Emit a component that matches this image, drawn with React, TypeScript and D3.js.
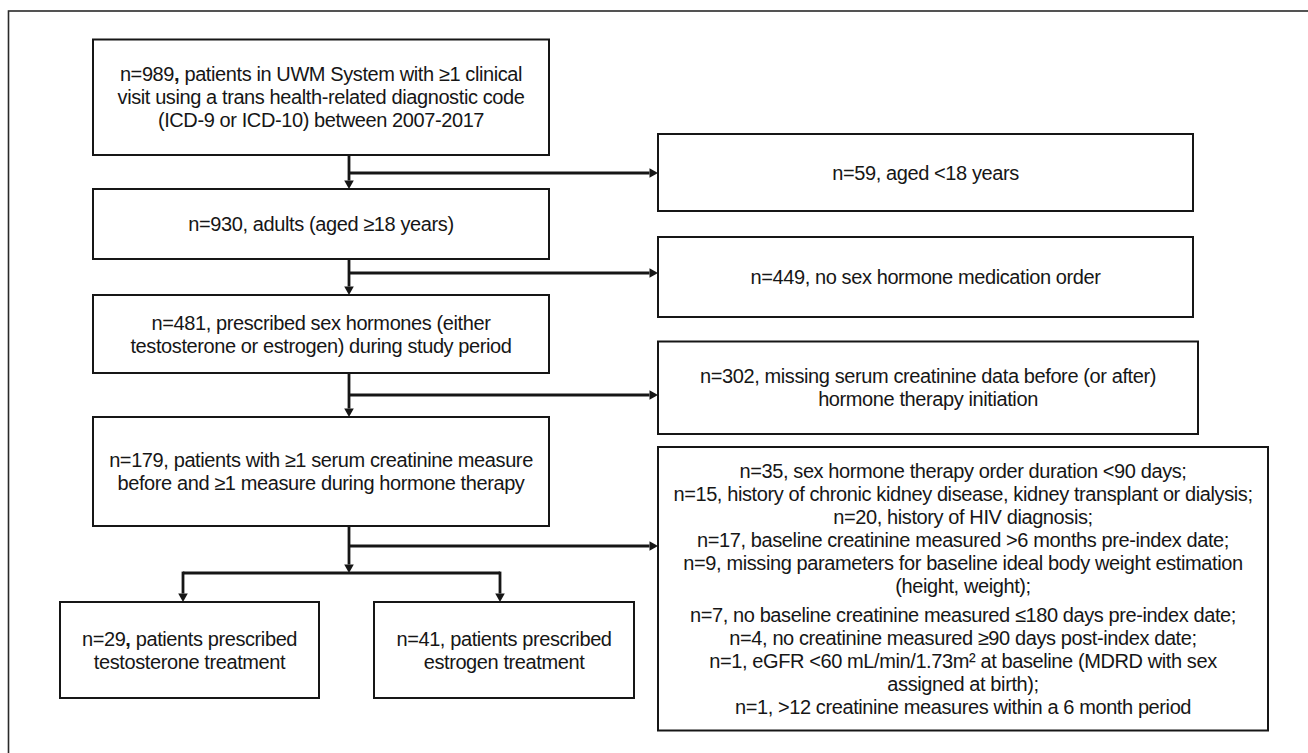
import React from 'react'
import * as d3 from 'd3'

// flow counts and labels
const mainCounts = [989, 930, 481, 179]
const mainLabels = [
  ['patients in UWM System with ≥1 clinical', 'visit using a trans health-related diagnostic code', '(ICD-9 or ICD-10) between 2007-2017'],
  ['adults (aged ≥18 years)'],
  ['prescribed sex hormones (either', 'testosterone or estrogen) during study period'],
  ['patients with ≥1 serum creatinine measure', 'before and ≥1 measure during hormone therapy'],
]

const excludedCounts = [59, 449, 302]
const excludedLabels = [
  ['aged <18 years'],
  ['no sex hormone medication order'],
  ['missing serum creatinine data before (or after)', 'hormone therapy initiation'],
]

const detailCounts = [35, 15, 20, 17, 9, 7, 4, 1, 1]
const detailLabels = [
  ['sex hormone therapy order duration <90 days;'],
  ['history of chronic kidney disease, kidney transplant or dialysis;'],
  ['history of HIV diagnosis;'],
  ['baseline creatinine measured >6 months pre-index date;'],
  ['missing parameters for baseline ideal body weight estimation', '(height, weight);'],
  ['no baseline creatinine measured ≤180 days pre-index date;'],
  ['no creatinine measured ≥90 days post-index date;'],
  ['eGFR <60 mL/min/1.73m² at baseline (MDRD with sex', 'assigned at birth);'],
  ['>12 creatinine measures within a 6 month period'],
]

const armCounts = [29, 41]
const armLabels = [
  ['patients prescribed', 'testosterone treatment'],
  ['patients prescribed', 'estrogen treatment'],
]

const boldComma = new Set([989, 29])

// layout
const W = 1308
const H = 753
const FONT = 20
const LH = 23
const mainX: [number, number] = [93, 549]
const mainY: [number, number][] = [[39.5, 155], [189, 259], [295, 373], [417, 526]]
const sideX0 = 658
const sideBoxes: [number, number, number][] = [[134, 211, 1193], [237, 317, 1193], [341.5, 434, 1198]]
const detailBox: [number, number, number] = [447, 730.5, 1268]
const branchY = [173, 273, 395, 546]
const stemX = 349
const splitY = 573
const armX: [number, number][] = [[60, 319], [374, 634]]
const armY: [number, number] = [602, 698]
const armStemX = [183, 500]

const ink = '#161616'
const line = d3.line()

function Arrow({ pts }: { pts: [number, number][] }) {
  const [x1, y1] = pts[pts.length - 1]
  const [x0, y0] = pts[pts.length - 2]
  const a = Math.atan2(y1 - y0, x1 - x0)
  const len = 8.5
  const hw = 4.8
  const bx = x1 - len * Math.cos(a)
  const by = y1 - len * Math.sin(a)
  const head: [number, number][] = [
    [x1, y1],
    [bx + hw * Math.sin(a), by - hw * Math.cos(a)],
    [bx - hw * Math.sin(a), by + hw * Math.cos(a)],
  ]
  const shaft = pts.slice(0, -1).concat([[bx, by]])
  return (
    <g>
      <path d={line(shaft) || ''} fill="none" stroke={ink} strokeWidth={2.8} />
      <path d={(line(head) || '') + 'Z'} fill={ink} />
    </g>
  )
}

function Label({ count, text }: { count: number; text: string }) {
  return (
    <>
      <tspan>{`n=${count}`}</tspan>
      <tspan fontWeight={boldComma.has(count) ? 'bold' : 'normal'}>,</tspan>
      <tspan>{` ${text}`}</tspan>
    </>
  )
}

function Box({ x0, x1, y0, y1, count, lines }: { x0: number; x1: number; y0: number; y1: number; count: number; lines: string[] }) {
  const cx = (x0 + x1) / 2
  const cy = (y0 + y1) / 2
  const start = cy - ((lines.length - 1) * LH) / 2
  return (
    <g>
      <rect x={x0} y={y0} width={x1 - x0} height={y1 - y0} fill="#fff" stroke={ink} strokeWidth={2} />
      {lines.map((l, i) => (
        <text key={i} x={cx} y={start + i * LH} textAnchor="middle" dominantBaseline="central">
          {i === 0 ? <Label count={count} text={l} /> : l}
        </text>
      ))}
    </g>
  )
}

export default function App() {
  // detail box rows, extra gap after the 5th item
  const detailRows: { y: number; first: boolean; count: number; text: string }[] = []
  const gap = 6
  const totalLines = detailLabels.reduce((s, d) => s + d.length, 0)
  const cyDetail = (detailBox[0] + detailBox[1]) / 2
  let y = cyDetail - ((totalLines - 1) * LH + gap) / 2
  detailLabels.forEach((lines, i) => {
    if (i === 5) y += gap
    lines.forEach((t, j) => {
      detailRows.push({ y, first: j === 0, count: detailCounts[i], text: t })
      y += LH
    })
  })

  return (
    <div style={{ position: 'absolute', left: 0, top: 0 }}>
      <svg width={W} height={H} style={{ display: 'block', background: '#fff' }}
        fontFamily="'Liberation Sans', Arial, sans-serif" fontSize={FONT} letterSpacing={-0.4} fill={ink}>
        <rect x={8.5} y={11} width={W + 20} height={H + 20} fill="none" stroke="#2a2a2a" strokeWidth={1.6} />

        {/* connectors */}
        {mainY.slice(0, -1).map((r, i) => (
          <Arrow key={'m' + i} pts={[[stemX, r[1]], [stemX, mainY[i + 1][0]]]} />
        ))}
        {branchY.map((by, i) => (
          <Arrow key={'b' + i} pts={[[stemX, by], [sideX0, by]]} />
        ))}
        <Arrow pts={[[stemX, mainY[3][1]], [stemX, splitY]]} />
        <path d={line([[armStemX[0], splitY], [armStemX[1], splitY]]) || ''} stroke={ink} strokeWidth={2.8} fill="none" />
        {armStemX.map((ax, i) => (
          <Arrow key={'a' + i} pts={[[ax, splitY - 1.4], [ax, armY[0]]]} />
        ))}

        {/* main column */}
        {mainCounts.map((c, i) => (
          <Box key={'mb' + i} x0={mainX[0]} x1={mainX[1]} y0={mainY[i][0]} y1={mainY[i][1]} count={c} lines={mainLabels[i]} />
        ))}

        {/* excluded */}
        {excludedCounts.map((c, i) => (
          <Box key={'eb' + i} x0={sideX0} x1={sideBoxes[i][2]} y0={sideBoxes[i][0]} y1={sideBoxes[i][1]} count={c} lines={excludedLabels[i]} />
        ))}

        {/* detail exclusions */}
        <rect x={sideX0} y={detailBox[0]} width={detailBox[2] - sideX0} height={detailBox[1] - detailBox[0]} fill="#fff" stroke={ink} strokeWidth={2} />
        {detailRows.map((r, i) => (
          <text key={'d' + i} x={(sideX0 + detailBox[2]) / 2} y={r.y} textAnchor="middle" dominantBaseline="central">
            {r.first ? <Label count={r.count} text={r.text} /> : r.text}
          </text>
        ))}

        {/* arms */}
        {armCounts.map((c, i) => (
          <Box key={'ab' + i} x0={armX[i][0]} x1={armX[i][1]} y0={armY[0]} y1={armY[1]} count={c} lines={armLabels[i]} />
        ))}
      </svg>
    </div>
  )
}
